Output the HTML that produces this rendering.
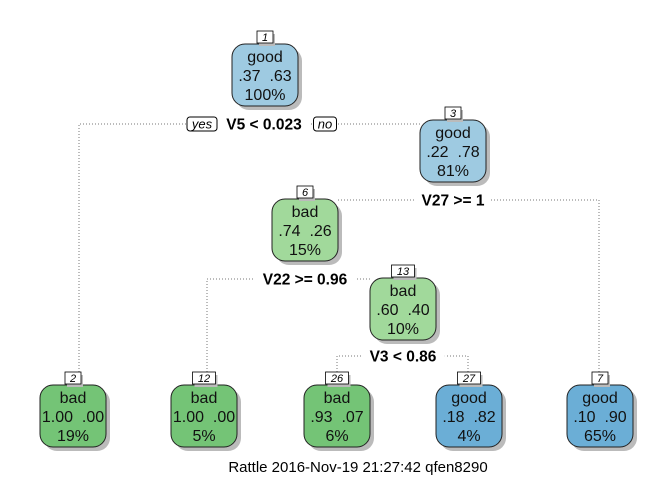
<!DOCTYPE html>
<html><head><meta charset="utf-8"><style>
body{margin:0;background:#fff;}
svg{display:block;font-family:"Liberation Sans",Arial,sans-serif;}
text{white-space:pre;}
</style></head><body>
<svg id="c" width="672" height="480"></svg>
<script>
const nodeIds=[1,3,6,13,2,12,26,27,7];
const nodeClass=["good","good","bad","bad","bad","bad","bad","good","good"];
const nodeP1=[".37",".22",".74",".60","1.00","1.00",".93",".18",".10"];
const nodeP2=[".63",".78",".26",".40",".00",".00",".07",".82",".90"];
const nodePct=["100%","81%","15%","10%","19%","5%","6%","4%","65%"];
const nodeCx=[265,453,305,403,73,204,337,469,600];
const nodeTop=[44,120,199,278,385,385,385,385,385];
const splitLabels=["V5 < 0.023","V27 >= 1","V22 >= 0.96","V3 < 0.86"];
const fills={good:["#9ecae1","#6baed6"],bad:["#a1d99b","#74c476"]};
const NS="http://www.w3.org/2000/svg";
const svg=document.getElementById('c');
function mk(t,a,p){const e=document.createElementNS(NS,t);for(const k in a)e.setAttribute(k,a[k]);(p||svg).appendChild(e);return e;}
const dot={stroke:"#777","stroke-width":1,"stroke-dasharray":"1,2",fill:"none"};
const edges=[
 {pts:[[79,375],[79,124],[420,124]],lab:[264,124]},
 {pts:[[338,200],[599,200],[599,375]],lab:[453,200]},
 {pts:[[207,375],[207,279],[371,279]],lab:[305,279]},
 {pts:[[337,375],[337,356],[468,356],[468,375]],lab:[403,356]}
];
edges.forEach((e,i)=>{
 const l=mk('polyline',Object.assign({points:e.pts.map(p=>p.join(',')).join(' ')},dot));
 
 
 const w=splitLabels[i].length*8.4+8;
 mk('rect',{x:e.lab[0]-w/2,y:e.lab[1]-10,width:w,height:20,fill:"#fff"});
 const t=mk('text',{x:e.lab[0],y:e.lab[1]+5.5,"text-anchor":"middle","font-size":15.5,"font-weight":"bold",fill:"#000"});
 t.textContent=splitLabels[i];
 
 
});
[["yes",202],["no",325]].forEach(([s,x])=>{
 const g=mk('g',{});
 
 
 const w=s=="yes"?30:23;
 mk('rect',{x:x-w/2,y:117,width:w,height:14,rx:3,fill:"#fff",stroke:"#000","stroke-width":1},g);
 const t=mk('text',{x:x,y:128.5,"text-anchor":"middle","font-size":13,"font-style":"italic"},g);t.textContent=s;
});
nodeIds.forEach((id,i)=>{
 const g=mk('g',{});
 
 
 const x=nodeCx[i]-33,y=nodeTop[i],w=66,h=62;
 const leaf=i>=4;
 const col=fills[nodeClass[i]][leaf?1:0];
 mk('rect',{x:x+4,y:y+4,width:w,height:h,rx:13,fill:"#bbb"},g);
 mk('rect',{x:x,y:y,width:w,height:h,rx:13,fill:col,stroke:"#222","stroke-width":1},g);
 const nw=String(id).length*7+9;
 mk('rect',{x:nodeCx[i]-nw/2+2,y:y-12+2,width:nw,height:12,fill:"#bbb"},g);
 mk('rect',{x:nodeCx[i]-nw/2,y:y-13,width:nw,height:12,fill:"#fff",stroke:"#000","stroke-width":0.8},g);
 const nt=mk('text',{x:nodeCx[i],y:y-3,"text-anchor":"middle","font-size":11,"font-style":"italic"},g);nt.textContent=id;
 const lines=[nodeClass[i],nodeP1[i]+"  "+nodeP2[i],nodePct[i]];
 lines.forEach((s,k)=>{const t=mk('text',{x:nodeCx[i],y:y+18+k*19,"text-anchor":"middle","font-size":16,fill:"#111"},g);t.textContent=s;});
});
const cap=mk('text',{x:358,y:472,"text-anchor":"middle","font-size":15,fill:"#000"});
cap.textContent="Rattle 2016-Nov-19 21:27:42 qfen8290";


</script>
</body></html>
